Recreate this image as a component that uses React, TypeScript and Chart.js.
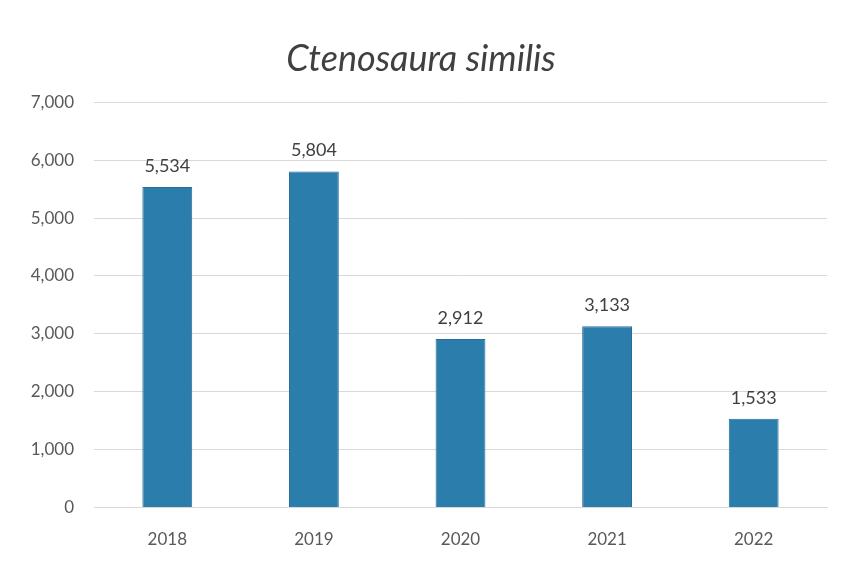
import React, { useEffect, useRef } from "react";
import { Chart, registerables } from "chart.js";

Chart.register(...registerables);

const titleText = "Ctenosaura similis";
const years = ["2018", "2019", "2020", "2021", "2022"];
const counts = [5534, 5804, 2912, 3133, 1533];
const yTicks = [0, 1000, 2000, 3000, 4000, 5000, 6000, 7000];

const fmt = (v: number) => v.toLocaleString("en-US");

const valueLabels = {
  id: "valueLabels",
  afterDatasetsDraw(chart: any) {
    const ctx = chart.ctx;
    const meta = chart.getDatasetMeta(0);
    ctx.save();
    ctx.fillStyle = "#404040";
    ctx.font = "18px Lato, 'Open Sans', sans-serif";
    ctx.textAlign = "center";
    ctx.textBaseline = "bottom";
    meta.data.forEach((bar: any, i: number) => {
      ctx.fillText(fmt(counts[i]), bar.x, bar.y - 12);
    });
    ctx.restore();
  },
};

export default function App() {
  const ref = useRef<HTMLCanvasElement>(null);
  useEffect(() => {
    if (!ref.current) return;
    const chart = new Chart(ref.current, {
      type: "bar",
      data: {
        labels: years,
        datasets: [
          {
            data: counts,
            backgroundColor: "#2b7dab",
            borderColor: "#276f96",
            borderWidth: 1,
            categoryPercentage: 1,
            barPercentage: 0.34,
          },
        ],
      },
      plugins: [valueLabels],
      options: {
        animation: false,
        responsive: false,
        layout: { padding: { left: 15, right: 20, top: 12, bottom: 0 } },
        plugins: {
          legend: { display: false },
          tooltip: { enabled: false },
          title: {
            display: true,
            text: titleText,
            color: "#404040",
            font: { size: 36, style: "italic", family: "Lato, 'Open Sans', sans-serif", weight: "normal" },
            padding: { top: 26, bottom: 21 },
          },
        },
        scales: {
          x: {
            grid: { display: false, drawTicks: false },
            border: { display: true, color: "#d9d9d9" },
            ticks: {
              color: "#595959",
              font: { size: 17, family: "Lato, 'Open Sans', sans-serif" },
              padding: 22,
            },
          },
          y: {
            min: 0,
            max: 7000,
            afterBuildTicks: (scale: any) => {
              scale.ticks = yTicks.map((v) => ({ value: v }));
            },
            afterFit: (scale: any) => {
              scale.width = 79;
            },
            grid: { color: "#d9d9d9", drawTicks: false },
            border: { display: false },
            ticks: {
              color: "#595959",
              font: { size: 17, family: "Lato, 'Open Sans', sans-serif" },
              padding: 20,
              callback: (v: any) => fmt(Number(v)),
            },
          },
        },
      },
    });
    return () => chart.destroy();
  }, []);
  return (
    <div style={{ position: "absolute", left: 0, top: 0, width: 847, height: 572, background: "#fff" }}>
      <canvas ref={ref} width={847} height={572} style={{ display: "block" }} />
    </div>
  );
}
